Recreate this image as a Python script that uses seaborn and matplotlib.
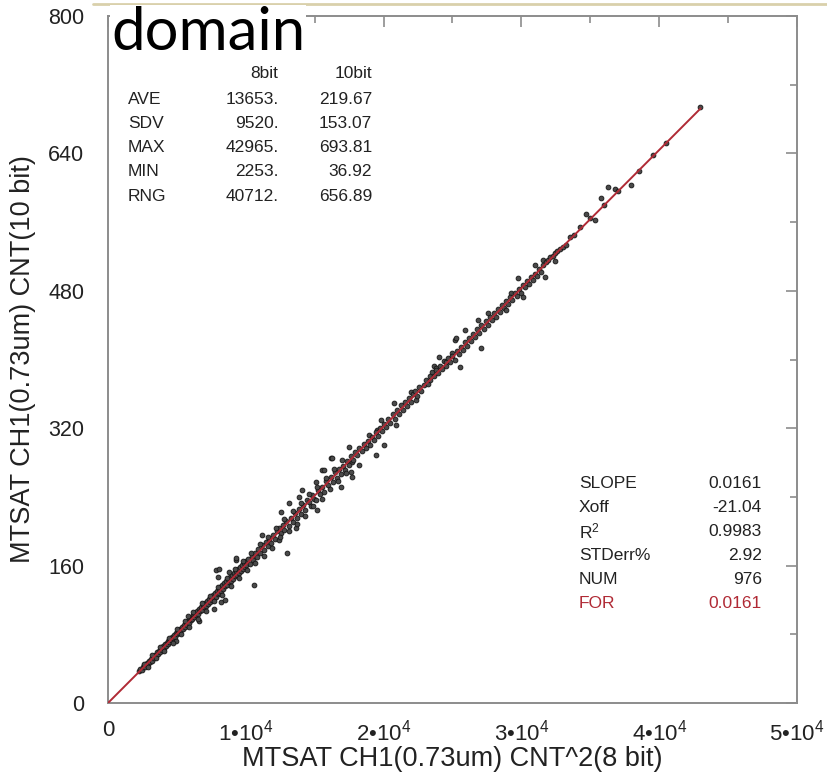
import matplotlib
matplotlib.use("Agg")
import matplotlib.pyplot as plt
from matplotlib.lines import Line2D
from matplotlib.ticker import MultipleLocator, FixedLocator
import seaborn as sns
import pandas as pd

# ---------------- data ----------------
cnt8_sq = [
    2253, 2350, 2480, 2560, 2640, 2710, 2800, 2890, 2950, 3040, 3120, 3180, 3260, 3330, 3400, 3470,
    3550, 3610, 3690, 3760, 3820, 3900, 3970, 4040, 4110, 4180, 4250, 4320, 4390, 4450, 4520, 4600,
    4660, 4730, 4800, 4870, 4940, 5010, 5080, 5150, 5220, 5290, 5360, 5430, 5500, 5570, 5640, 5710,
    5780, 5850, 5920, 5990, 6060, 6130, 6200, 6270, 6340, 6410, 6480, 6550, 6620, 6690, 6760, 6830,
    6900, 6970, 7040, 7110, 7180, 7250, 7320, 7390, 7460, 7530, 7600, 7670, 7740, 7810, 7880, 7950,
    8020, 8090, 8160, 8230, 8300, 8370, 8440, 8510, 8580, 8650, 8720, 8790, 8860, 8930, 9000, 9070,
    9140, 9210, 9280, 9350, 9420, 9490, 9560, 9630, 9700, 9770, 9840, 9910, 9980, 10050,
    7854, 8050, 7950, 7700, 8200, 8500, 9300, 9320, 10620, 13000, 6600, 5800, 4900, 8800,
    10150, 10300, 10420, 10550, 10680, 10800, 10920, 11050, 11200, 11180, 11320, 11450, 11580, 11700,
    11850, 11950, 12100, 12230, 12430, 12570, 12380, 12520, 12680, 12800, 12950, 13150, 13100, 13250,
    13400, 13650, 13550, 13700, 13870, 13850, 14000, 14100, 14150, 14300, 14450, 14600, 14700, 14800,
    14950, 15100, 15100, 15170, 15250, 15400, 15530, 15550, 15680, 15700, 15850, 16000, 16180, 16260,
    16150, 16300, 16450, 16600, 16900, 16750, 16900, 17050, 17200, 17490, 17350, 17630, 17700, 17700,
    17500, 17650, 17800, 17950, 18200, 18100, 18250, 18400, 18550, 18700, 18930, 18850, 19000, 19150,
    19440, 19300, 19510, 19450, 19600, 19800, 19750, 20000, 19900, 20050, 20200, 20350, 20500, 20740,
    20650, 20880, 20800, 20950, 21100, 21250, 21400, 21550, 21700, 21960, 21850, 22000, 22150, 22330,
    22300, 22450, 22600, 22750, 22900, 23050, 23200, 23400, 23350, 23500, 23630, 23650, 23770, 23800,
    23990, 23950, 24100, 24250, 24400, 24500, 24550, 24700, 24850, 24930, 25000, 25200, 25150, 25290,
    25580, 25300, 25450, 25600, 25750, 25940, 25900, 26050, 26200, 26350, 26500, 26650, 26880, 26800,
    26950, 27100, 27100, 27250, 27400, 27600, 27550, 27700, 27850, 28000, 28150, 28300, 28450, 28600,
    28750, 28900, 28900, 29050, 29260, 29200, 29350, 29500, 29770, 29650, 29800, 29950, 30130, 30100,
    30250, 30400, 30550, 30700, 30850, 31000, 31000, 31150, 31300, 31580, 31450, 31720, 31600, 31800,
    31950, 32100, 32300, 32440, 32440, 32600, 32800, 33000, 33240, 33530, 33800, 34250, 34680, 35330,
    35000, 35770, 36000, 36270, 36780, 37000, 37930, 38500, 39520, 40500, 42965,
    2600, 2900, 3200, 3500, 3800, 4100, 4400, 4700, 5000, 5300, 5600, 5900, 6200, 6500, 6800, 7100,
    7400, 7700, 8000, 8300, 8600, 8900, 9200, 9500, 9800, 10100, 10400, 10700, 11000, 11300, 11600,
    11900, 12200, 12500, 12800, 13100, 13400, 13700, 14000, 14300, 14600, 14900, 15200, 15500, 15800,
    16100, 16400, 16700, 17000, 17300,
]
cnt10 = [
    36.9, 39.5, 38.0, 42.1, 44.0, 41.5, 46.3, 45.0, 48.8, 47.2, 51.5, 49.0, 53.8, 52.0, 56.2, 54.3,
    58.9, 56.8, 61.0, 59.2, 63.5, 61.7, 65.9, 64.0, 68.2, 66.1, 70.3, 68.7, 72.6, 70.5, 75.1, 72.9,
    77.2, 75.4, 79.6, 77.3, 81.9, 79.8, 84.3, 81.9, 86.0, 84.7, 88.8, 86.2, 91.0, 88.6, 93.4, 91.1,
    95.8, 93.0, 97.9, 96.1, 100.4, 97.5, 102.6, 100.3, 104.5, 102.0, 107.3, 104.1, 109.0, 106.9, 111.8, 108.2,
    114.0, 111.5, 116.2, 112.9, 118.6, 115.0, 121.1, 117.4, 123.0, 119.6, 125.9, 121.7, 128.4, 124.0, 130.3, 126.5,
    133.0, 128.0, 135.2, 131.0, 137.8, 133.2, 139.5, 135.9, 142.4, 137.6, 144.1, 140.7, 146.8, 142.5, 149.2, 144.8,
    151.5, 147.5, 153.7, 149.0, 156.3, 151.9, 158.0, 154.1, 160.5, 156.0, 163.1, 158.7, 165.4, 161.0,
    155.0, 155.5, 147.0, 110.0, 118.0, 120.5, 166.0, 169.0, 137.0, 175.0, 96.0, 101.0, 72.0, 153.0,
    167.5, 162.0, 171.0, 166.5, 174.5, 170.0, 179.0, 174.2, 196.0, 183.5, 178.0, 186.9, 182.5, 191.0,
    186.0, 195.2, 190.6, 200.0, 190.0, 222.0, 203.5, 198.0, 207.5, 202.0, 211.8, 233.0, 206.5, 216.0,
    211.0, 204.0, 221.5, 216.0, 240.0, 226.0, 220.5, 248.0, 231.0, 225.0, 236.5, 234.0, 229.0, 242.0,
    237.0, 257.0, 236.0, 225.0, 247.5, 243.0, 271.0, 252.0, 271.0, 246.0, 259.0, 253.5, 285.0, 285.0,
    263.0, 257.0, 268.5, 262.0, 251.0, 272.0, 266.5, 276.5, 271.0, 298.0, 282.0, 269.0, 263.0, 281.0,
    277.0, 287.5, 283.0, 292.0, 277.0, 289.0, 297.5, 293.0, 302.0, 297.0, 312.0, 305.5, 301.0, 310.0,
    289.0, 306.0, 318.0, 315.5, 311.0, 329.0, 320.0, 300.0, 316.5, 325.0, 321.0, 330.5, 326.0, 349.0,
    336.0, 324.0, 331.0, 341.0, 337.0, 346.5, 341.5, 350.0, 346.0, 362.0, 355.0, 351.0, 359.5, 353.0,
    363.0, 358.0, 367.5, 363.0, 370.0, 376.0, 372.0, 376.0, 380.5, 385.0, 393.0, 381.0, 390.0, 388.0,
    403.0, 384.0, 393.0, 389.5, 398.0, 397.0, 393.0, 401.5, 397.0, 407.0, 404.5, 423.0, 400.0, 425.0,
    391.0, 410.0, 406.0, 415.0, 411.0, 434.0, 420.0, 416.0, 425.5, 421.0, 430.0, 426.0, 446.0, 435.0,
    431.0, 413.0, 440.0, 436.0, 445.0, 454.0, 440.5, 449.5, 446.0, 454.0, 450.0, 458.5, 455.0, 463.0,
    460.0, 458.0, 468.0, 465.0, 478.0, 473.0, 469.5, 477.0, 495.0, 474.0, 482.0, 478.0, 473.0, 487.0,
    484.0, 491.0, 488.0, 496.0, 493.0, 510.0, 500.0, 497.0, 505.0, 516.0, 502.0, 496.0, 510.0, 513.0,
    516.0, 519.0, 520.0, 524.0, 515.0, 526.0, 529.0, 531.0, 533.0, 543.0, 545.0, 554.0, 570.0, 562.0,
    565.0, 588.0, 580.0, 601.0, 599.0, 596.0, 603.0, 620.0, 638.0, 652.0, 693.8,
    45.5, 42.0, 55.5, 52.0, 65.0, 61.0, 75.5, 70.0, 86.0, 80.0, 96.0, 89.0, 106.0, 98.0, 116.0, 107.0,
    125.0, 118.5, 135.5, 126.0, 146.0, 136.0, 156.0, 145.0, 165.0, 155.0, 175.0, 163.0, 185.0, 171.0, 193.0,
    180.0, 204.0, 193.0, 214.0, 200.0, 224.0, 209.0, 233.0, 218.0, 243.0, 229.0, 252.0, 238.0, 262.0,
    249.0, 273.0, 258.0, 283.0, 268.0,
]

fit_slope = 0.0161
fit_x_range = [0, 43000]

stat_rows = ["AVE", "SDV", "MAX", "MIN", "RNG"]
stat_8bit = ["13653.", "9520.", "42965.", "2253.", "40712."]
stat_10bit = ["219.67", "153.07", "693.81", "36.92", "656.89"]

fit_labels = ["SLOPE", "Xoff", "R$^{\\mathregular{2}}$", "STDerr%", "NUM", "FOR"]
fit_values = ["0.0161", "-21.04", "0.9983", "2.92", "976", "0.0161"]

x_ticks = [0, 10000, 20000, 30000, 40000, 50000]
x_tick_labels = ["0", "1\u202210$^{4}$", "2\u202210$^{4}$", "3\u202210$^{4}$", "4\u202210$^{4}$", "5\u202210$^{4}$"]
y_ticks = [0, 160, 320, 480, 640, 800]

# ---------------- style ----------------
sns.set_style("white")
plt.rcParams["font.family"] = ["Liberation Sans", "DejaVu Sans"]
plt.rcParams["mathtext.fontset"] = "custom"
plt.rcParams["mathtext.rm"] = "Liberation Sans"
plt.rcParams["mathtext.default"] = "regular"

TXT = "#222222"
AXC = "#8c8c8c"
RED = "#b02a35"

fig = plt.figure(figsize=(8.28, 7.73), dpi=100)
ax = fig.add_axes([108 / 828, 1 - 703 / 773, (797 - 108) / 828, (703 - 16) / 773])

pts = pd.DataFrame({"x": cnt8_sq, "y": cnt10})
sns.scatterplot(data=pts, x="x", y="y", ax=ax, s=12, color="#4a4a4a",
                edgecolor="#151515", linewidth=0.6, zorder=2, legend=False)

line_df = pd.DataFrame({"x": fit_x_range, "y": [fit_slope * v for v in fit_x_range]})
sns.lineplot(data=line_df, x="x", y="y", ax=ax, color=RED, linewidth=1.4, zorder=3)

ax.set_xlim(0, 50000)
ax.set_ylim(0, 800)
ax.xaxis.set_major_locator(FixedLocator(x_ticks))
ax.set_xticklabels(x_tick_labels)
ax.yaxis.set_major_locator(FixedLocator(y_ticks))
ax.xaxis.set_minor_locator(MultipleLocator(5000))
ax.yaxis.set_minor_locator(MultipleLocator(80))

for sp in ax.spines.values():
    sp.set_visible(True)
    sp.set_color(AXC)
    sp.set_linewidth(1.4)

ax.tick_params(which="both", direction="in", top=True, right=True, color=AXC, width=1.2,
               labelcolor=TXT)
ax.tick_params(which="major", length=8)
ax.tick_params(which="minor", length=5)
ax.tick_params(axis="x", which="major", labelsize=16, pad=12)
ax.tick_params(axis="y", which="major", labelsize=15.5, pad=17)

ax.set_xlabel("MTSAT CH1(0.73um) CNT^2(8 bit)", fontsize=19.5, color=TXT, labelpad=0)
ax.set_ylabel("MTSAT CH1(0.73um) CNT(10 bit)", fontsize=19.5, color=TXT, labelpad=9)


def px(xp, yp):
    return (xp / 828, 1 - yp / 773)


# statistics block (top-left)
fig.text(*px(278, 74), "8bit", ha="right", fontsize=12.5, color=TXT, va="center")
fig.text(*px(372, 74), "10bit", ha="right", fontsize=12.5, color=TXT, va="center")
for i, (lab, a, b) in enumerate(zip(stat_rows, stat_8bit, stat_10bit)):
    yy = 99 + i * 24.3
    fig.text(*px(128, yy), lab, ha="left", fontsize=12.5, color=TXT, va="center")
    fig.text(*px(279, yy), a, ha="right", fontsize=12.5, color=TXT, va="center")
    fig.text(*px(372, yy), b, ha="right", fontsize=12.5, color=TXT, va="center")

# fit block (bottom-right)
for i, (lab, val) in enumerate(zip(fit_labels, fit_values)):
    yy = 483 + i * 24.2
    col = RED if lab == "FOR" else TXT
    fig.text(*px(579, yy), lab, ha="left", fontsize=12.5, color=col, va="center")
    fig.text(*px(762, yy), val, ha="right", fontsize=12.5, color=col, va="center")

# slide artifacts: tan rule at top and overlaid word
fig.add_artist(Line2D([93 / 828, 1.0], [1 - 4 / 773, 1 - 4 / 773], transform=fig.transFigure,
                      color="#d9d0ab", linewidth=2))
fig.text(111 / 828, 1 - 50 / 773, "domain", fontsize=43, family=["Lato", "DejaVu Sans"],
         color="black", ha="left", va="baseline",
         bbox=dict(facecolor="white", edgecolor="none", pad=0.3))

fig.savefig("out.png", dpi=100)
